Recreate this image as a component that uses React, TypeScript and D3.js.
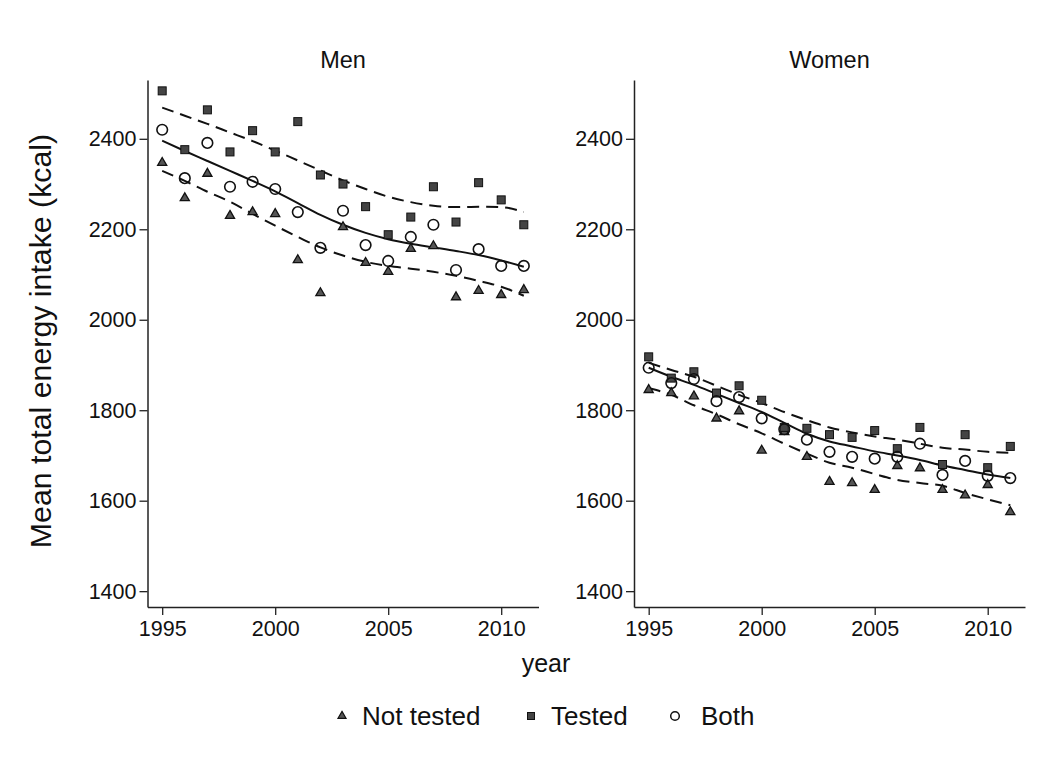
import React, { useRef, useEffect } from "react";
import * as d3 from "d3";

const years = [1995, 1996, 1997, 1998, 1999, 2000, 2001, 2002, 2003, 2004, 2005, 2006, 2007, 2008, 2009, 2010, 2011];

const menNotTested = [2347, 2269, 2323, 2230, 2238, 2234, 2132, 2059, 2205, 2126, 2106, 2157, 2163, 2050, 2064, 2055, 2066];
const menTested = [2506, 2376, 2464, 2371, 2418, 2371, 2438, 2320, 2300, 2250, 2188, 2227, 2294, 2216, 2303, 2265, 2210];
const menBoth = [2420, 2313, 2391, 2294, 2305, 2289, 2238, 2159, 2241, 2165, 2130, 2183, 2210, 2110, 2156, 2119, 2119];
const menFit = [2396, 2373, 2351, 2329, 2307, 2284, 2258, 2232, 2210, 2192, 2178, 2168, 2160, 2152, 2143, 2131, 2117];
const menUpper = [2469, 2451, 2433, 2414, 2395, 2374, 2352, 2330, 2308, 2289, 2272, 2260, 2252, 2249, 2250, 2249, 2238];
const menLower = [2329, 2307, 2283, 2261, 2234, 2208, 2183, 2160, 2142, 2128, 2119, 2113, 2106, 2097, 2086, 2073, 2053];

const womenNotTested = [1845, 1838, 1831, 1782, 1798, 1711, 1752, 1697, 1642, 1639, 1624, 1677, 1672, 1624, 1612, 1635, 1575];
const womenTested = [1918, 1871, 1885, 1838, 1854, 1822, 1762, 1760, 1746, 1740, 1755, 1715, 1762, 1680, 1746, 1673, 1720];
const womenBoth = [1894, 1860, 1869, 1820, 1829, 1782, 1758, 1735, 1708, 1697, 1693, 1697, 1726, 1657, 1688, 1655, 1650];
const womenFit = [1894, 1874, 1856, 1836, 1816, 1796, 1772, 1748, 1731, 1720, 1709, 1700, 1690, 1678, 1668, 1658, 1650];
const womenUpper = [1905, 1889, 1874, 1854, 1834, 1816, 1796, 1778, 1762, 1751, 1742, 1735, 1726, 1717, 1713, 1708, 1706];
const womenLower = [1849, 1834, 1811, 1791, 1769, 1749, 1726, 1704, 1684, 1673, 1659, 1646, 1639, 1633, 1617, 1603, 1590];

const xTicks = [1995, 2000, 2005, 2010];
const yTicks = [1400, 1600, 1800, 2000, 2200, 2400];
const legendLabels = ["Not tested", "Tested", "Both"];

const FONT = "'Liberation Sans', Arial, sans-serif";

function App() {
  const ref = useRef<HTMLDivElement>(null);

  useEffect(() => {
    d3.select(ref.current).select("svg").remove();

    const width = 1051,
      height = 771;

    const svg = d3
      .select(ref.current)
      .append("svg")
      .attr("width", width)
      .attr("height", height)
      .style("position", "absolute")
      .style("left", 0)
      .style("top", 0)
      .style("background", "#fff");

    const y = d3.scaleLinear().domain([1365, 2530]).range([607, 80]);

    const panels = [
      { title: "Men", left: 147.5, right: 538.5, nt: menNotTested, t: menTested, b: menBoth, fit: menFit, up: menUpper, lo: menLower },
      { title: "Women", left: 634, right: 1025, nt: womenNotTested, t: womenTested, b: womenBoth, fit: womenFit, up: womenUpper, lo: womenLower }
    ];

    const tri = d3.symbol().type(d3.symbolTriangle).size(36);
    const triSmall = d3.symbol().type(d3.symbolTriangle).size(28);

    panels.forEach(p => {
      const x = d3.scaleLinear().domain([1994.35, 2011.65]).range([p.left, p.right]);
      const g = svg.append("g");

      // axes
      const yAxis = g
        .append("g")
        .attr("transform", `translate(${p.left},0)`)
        .call(d3.axisLeft(y).tickValues(yTicks).tickFormat(d3.format("d")).tickSize(8).tickPadding(3).tickSizeOuter(0));
      yAxis.select(".domain").attr("stroke", "#222").attr("stroke-width", 1.5);
      yAxis.selectAll(".tick line").attr("stroke", "#222").attr("stroke-width", 1.3);
      yAxis.selectAll("text").attr("font-family", FONT).attr("font-size", 21.5).attr("fill", "#111");

      const xAxis = g
        .append("g")
        .attr("transform", `translate(0,607)`)
        .call(d3.axisBottom(x).tickValues(xTicks).tickFormat(d3.format("d")).tickSize(8).tickPadding(6).tickSizeOuter(0));
      xAxis.select(".domain").attr("stroke", "#222").attr("stroke-width", 1.5);
      xAxis.selectAll(".tick line").attr("stroke", "#222").attr("stroke-width", 1.3);
      xAxis.selectAll("text").attr("font-family", FONT).attr("font-size", 21.5).attr("fill", "#111");

      g.append("text")
        .attr("x", (p.left + p.right) / 2)
        .attr("y", 68)
        .attr("text-anchor", "middle")
        .attr("font-family", FONT)
        .attr("font-size", 23.5)
        .attr("fill", "#111")
        .text(p.title);

      // fitted line and bands
      const line = d3
        .line<number>()
        .x((d, i) => x(years[i]))
        .y(d => y(d))
        .curve(d3.curveMonotoneX);

      [p.up, p.lo].forEach(arr => {
        g.append("path")
          .attr("d", line(arr))
          .attr("fill", "none")
          .attr("stroke", "#111")
          .attr("stroke-width", 2)
          .attr("stroke-dasharray", "12,7");
      });
      g.append("path")
        .attr("d", line(p.fit))
        .attr("fill", "none")
        .attr("stroke", "#111")
        .attr("stroke-width", 2);

      // markers
      g.selectAll(".nt")
        .data(p.nt)
        .enter()
        .append("path")
        .attr("d", tri)
        .attr("transform", (d, i) => `translate(${x(years[i])},${y(d)})`)
        .attr("fill", "#555")
        .attr("stroke", "#111")
        .attr("stroke-width", 1.3);

      g.selectAll(".t")
        .data(p.t)
        .enter()
        .append("rect")
        .attr("x", (d, i) => x(years[i]) - 4)
        .attr("y", d => y(d) - 4)
        .attr("width", 8)
        .attr("height", 8)
        .attr("fill", "#444")
        .attr("stroke", "#111")
        .attr("stroke-width", 1);

      g.selectAll(".b")
        .data(p.b)
        .enter()
        .append("circle")
        .attr("cx", (d, i) => x(years[i]))
        .attr("cy", d => y(d))
        .attr("r", 5.3)
        .attr("fill", "none")
        .attr("stroke", "#111")
        .attr("stroke-width", 1.6);
    });

    // y label
    svg
      .append("text")
      .attr("transform", "translate(51,341) rotate(-90)")
      .attr("text-anchor", "middle")
      .attr("font-family", FONT)
      .attr("font-size", 30.3)
      .attr("fill", "#111")
      .text("Mean total energy intake (kcal)");

    svg
      .append("text")
      .attr("x", 546)
      .attr("y", 672)
      .attr("text-anchor", "middle")
      .attr("font-family", FONT)
      .attr("font-size", 25)
      .attr("fill", "#111")
      .text("year");

    // legend
    const lg = svg.append("g");
    const markerX = [342, 531, 675];
    const textX = [362, 551, 701];
    lg.append("path")
      .attr("d", triSmall)
      .attr("transform", `translate(${markerX[0]},716)`)
      .attr("fill", "#555")
      .attr("stroke", "#111")
      .attr("stroke-width", 1.2);
    lg.append("rect")
      .attr("x", markerX[1] - 3.5)
      .attr("y", 712.5)
      .attr("width", 7)
      .attr("height", 7)
      .attr("fill", "#444")
      .attr("stroke", "#111");
    lg.append("circle")
      .attr("cx", markerX[2])
      .attr("cy", 716)
      .attr("r", 4.3)
      .attr("fill", "none")
      .attr("stroke", "#111")
      .attr("stroke-width", 1.5);
    lg.selectAll(".lt")
      .data(legendLabels)
      .enter()
      .append("text")
      .attr("x", (d, i) => textX[i])
      .attr("y", 725)
      .attr("font-family", FONT)
      .attr("font-size", 26)
      .attr("fill", "#111")
      .text(d => d);
  }, []);

  return <div ref={ref}></div>;
}

export default App;
